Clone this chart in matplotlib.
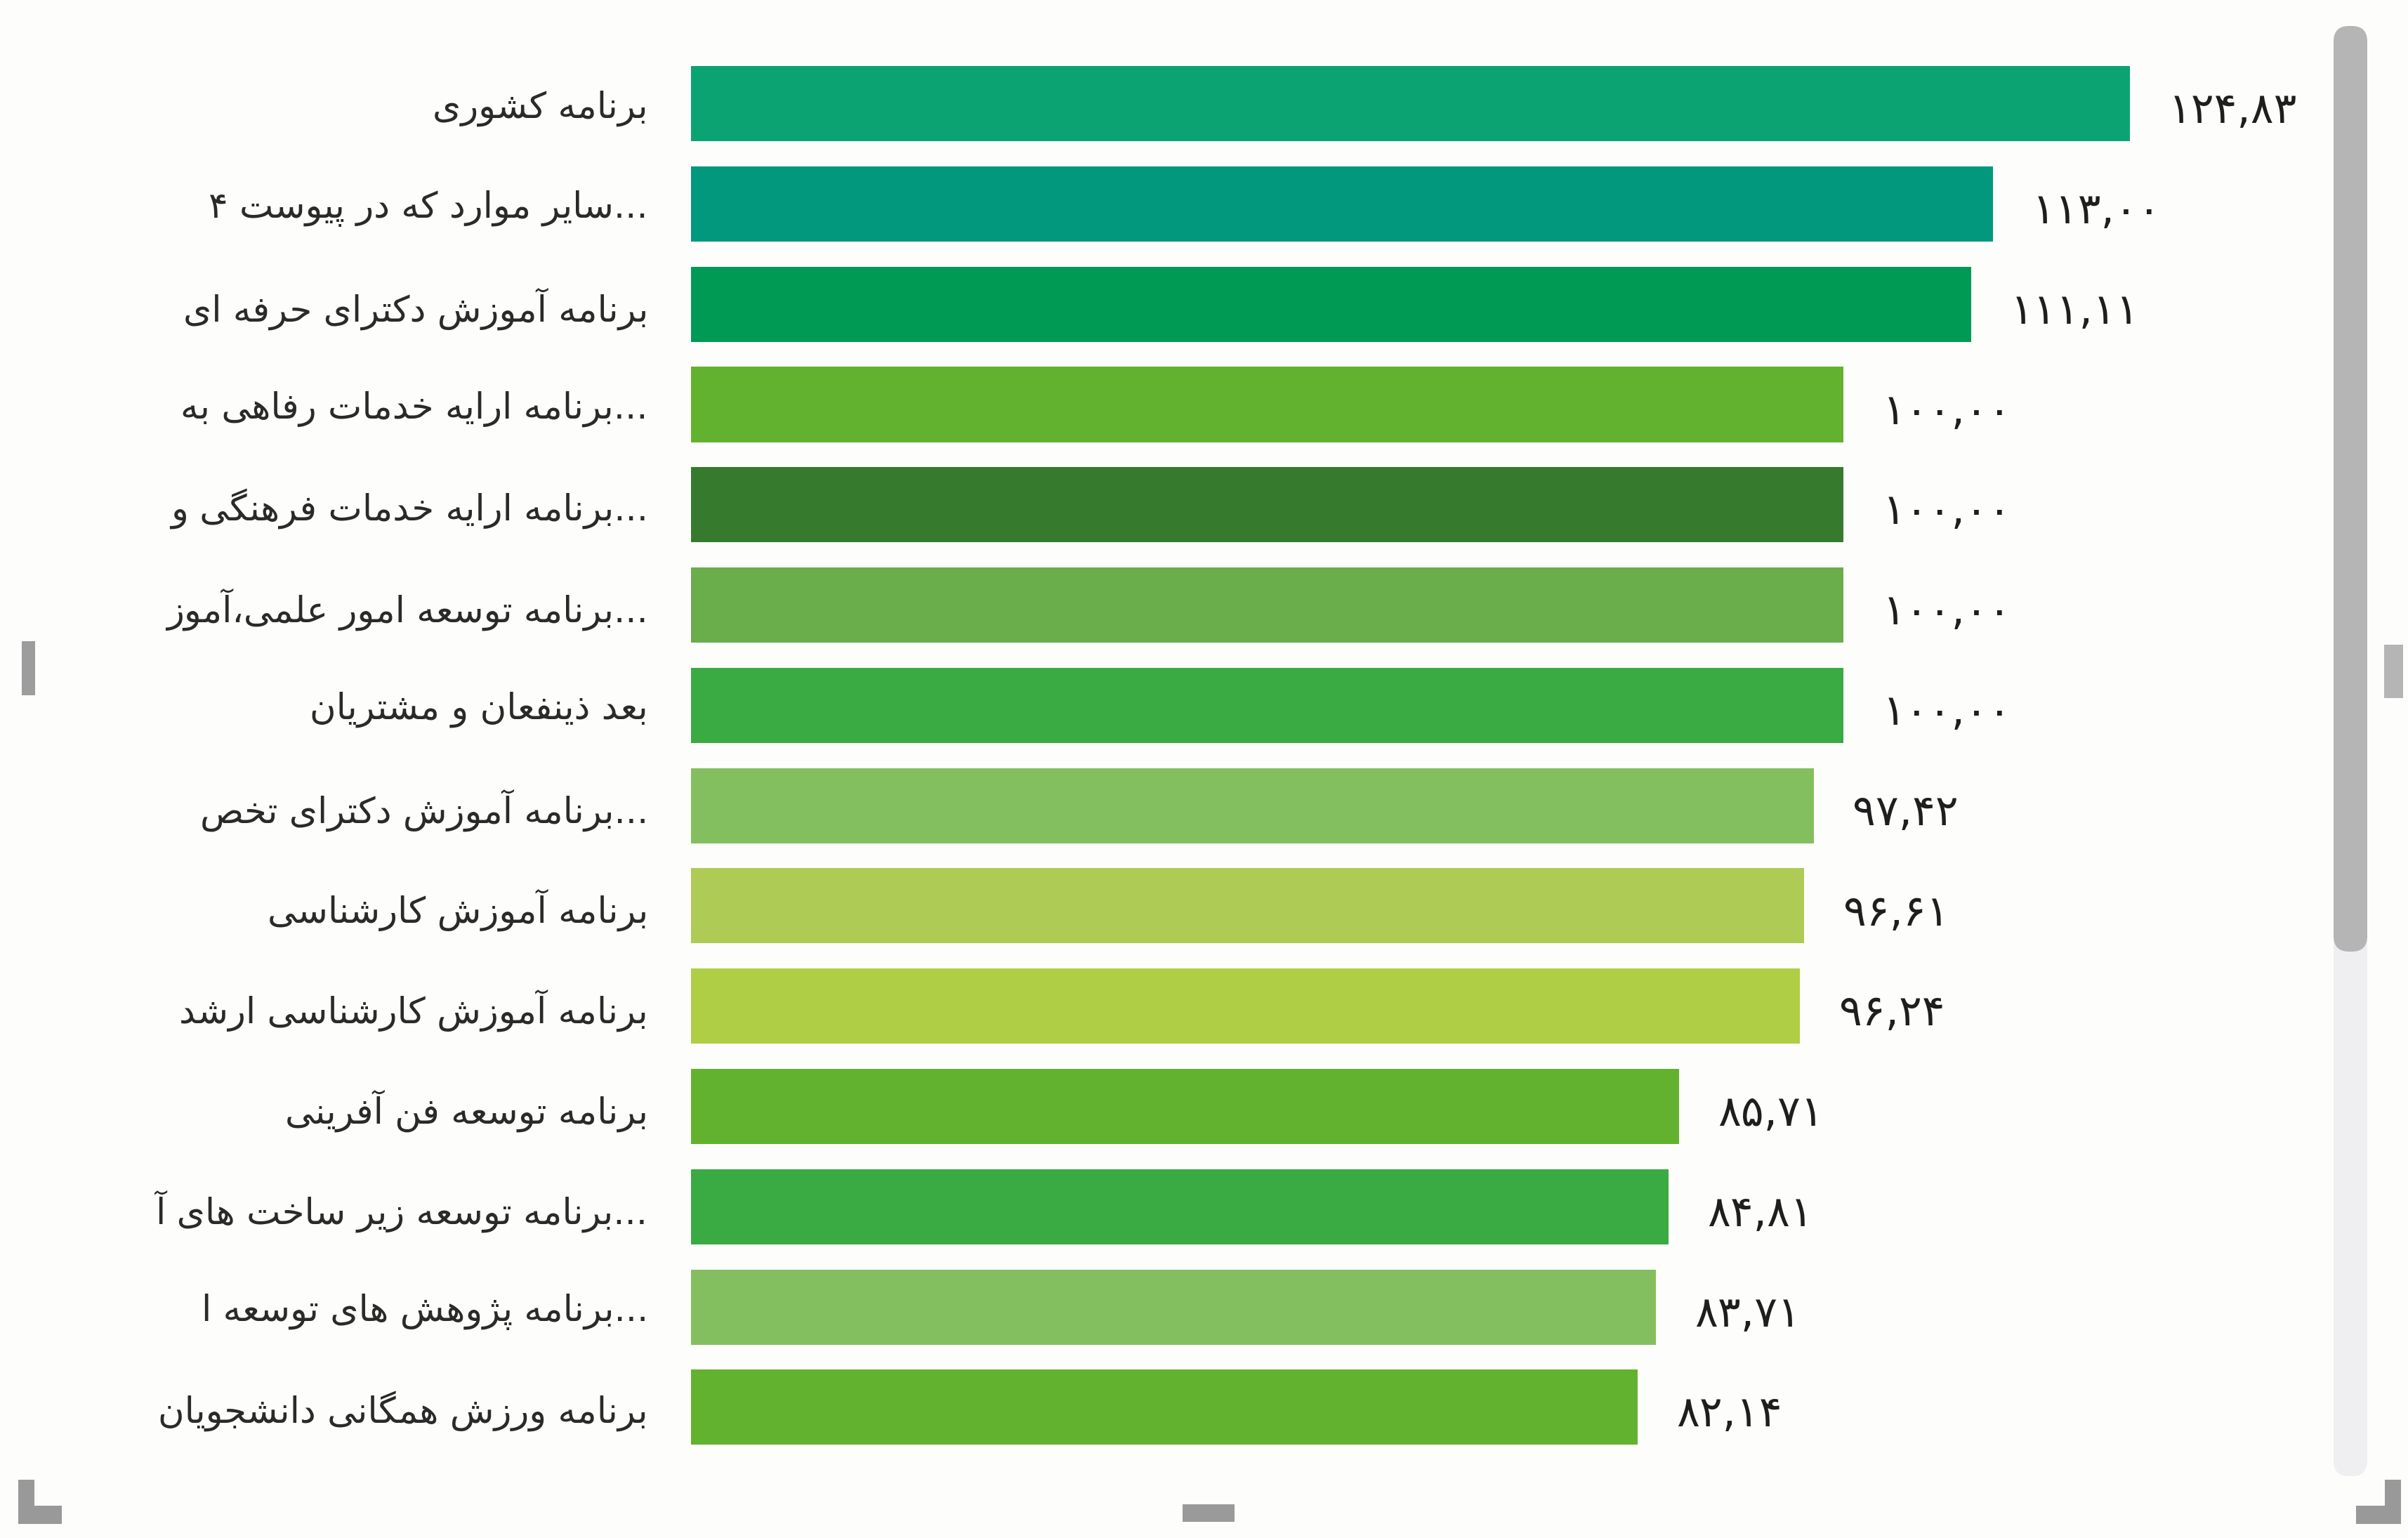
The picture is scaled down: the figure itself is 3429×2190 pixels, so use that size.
import matplotlib
matplotlib.use("Agg")
import matplotlib.pyplot as plt
from matplotlib.patches import Rectangle, FancyBboxPatch, Polygon

# ---------------- data ----------------
categories = [
    "برنامه کشوری",
    "سایر موارد که در پیوست ۴...",
    "برنامه آموزش دکترای حرفه ای",
    "برنامه ارایه خدمات رفاهی به...",
    "برنامه ارایه خدمات فرهنگی و...",
    "برنامه توسعه امور علمی،آموز...",
    "بعد ذینفعان و مشتریان",
    "برنامه آموزش دکترای تخص...",
    "برنامه آموزش کارشناسی",
    "برنامه آموزش کارشناسی ارشد",
    "برنامه توسعه فن آفرینی",
    "برنامه توسعه زیر ساخت های آ...",
    "برنامه پژوهش های توسعه ا...",
    "برنامه ورزش همگانی دانشجویان",
]
values = [124.83, 113.00, 111.11, 100.00, 100.00, 100.00, 100.00,
          97.42, 96.61, 96.24, 85.71, 84.81, 83.71, 82.14]
bar_colors = ["#0ba372", "#01987e", "#009a55", "#62b22f", "#367b2d",
              "#6aad4b", "#3aaa42", "#84bf5f", "#aecb55", "#b0cd46",
              "#62b22f", "#3aaa42", "#84bf5f", "#62b22f"]

# ---------------- minimal Arabic/Persian shaping ----------------
FORMS = {
    'ا': ('\uFE8D', '\uFE8E'), 'آ': ('\uFE81', '\uFE82'),
    'ب': ('\uFE8F', '\uFE90', '\uFE91', '\uFE92'),
    'پ': ('\uFB56', '\uFB57', '\uFB58', '\uFB59'),
    'ت': ('\uFE95', '\uFE96', '\uFE97', '\uFE98'),
    'ث': ('\uFE99', '\uFE9A', '\uFE9B', '\uFE9C'),
    'ج': ('\uFE9D', '\uFE9E', '\uFE9F', '\uFEA0'),
    'چ': ('\uFB7A', '\uFB7B', '\uFB7C', '\uFB7D'),
    'ح': ('\uFEA1', '\uFEA2', '\uFEA3', '\uFEA4'),
    'خ': ('\uFEA5', '\uFEA6', '\uFEA7', '\uFEA8'),
    'د': ('\uFEA9', '\uFEAA'), 'ذ': ('\uFEAB', '\uFEAC'),
    'ر': ('\uFEAD', '\uFEAE'), 'ز': ('\uFEAF', '\uFEB0'),
    'ژ': ('\uFB8A', '\uFB8B'),
    'س': ('\uFEB1', '\uFEB2', '\uFEB3', '\uFEB4'),
    'ش': ('\uFEB5', '\uFEB6', '\uFEB7', '\uFEB8'),
    'ص': ('\uFEB9', '\uFEBA', '\uFEBB', '\uFEBC'),
    'ض': ('\uFEBD', '\uFEBE', '\uFEBF', '\uFEC0'),
    'ط': ('\uFEC1', '\uFEC2', '\uFEC3', '\uFEC4'),
    'ظ': ('\uFEC5', '\uFEC6', '\uFEC7', '\uFEC8'),
    'ع': ('\uFEC9', '\uFECA', '\uFECB', '\uFECC'),
    'غ': ('\uFECD', '\uFECE', '\uFECF', '\uFED0'),
    'ف': ('\uFED1', '\uFED2', '\uFED3', '\uFED4'),
    'ق': ('\uFED5', '\uFED6', '\uFED7', '\uFED8'),
    'ک': ('\uFB8E', '\uFB8F', '\uFB90', '\uFB91'),
    'گ': ('\uFB92', '\uFB93', '\uFB94', '\uFB95'),
    'ل': ('\uFEDD', '\uFEDE', '\uFEDF', '\uFEE0'),
    'م': ('\uFEE1', '\uFEE2', '\uFEE3', '\uFEE4'),
    'ن': ('\uFEE5', '\uFEE6', '\uFEE7', '\uFEE8'),
    'ه': ('\uFEE9', '\uFEEA', '\uFEEB', '\uFEEC'),
    'و': ('\uFEED', '\uFEEE'),
    'ی': ('\uFBFC', '\uFBFD', '\uFBFE', '\uFBFF'),
}


def shape(text):
    out = []
    n = len(text)
    for i, c in enumerate(text):
        if c not in FORMS:
            out.append(c)
            continue
        f = FORMS[c]
        prev = text[i - 1] if i > 0 else ''
        nxt = text[i + 1] if i + 1 < n else ''
        cp = prev in FORMS and len(FORMS[prev]) == 4
        cn = nxt in FORMS and len(f) == 4
        if cp and cn:
            out.append(f[3])
        elif cp:
            out.append(f[1])
        elif cn:
            out.append(f[2])
        else:
            out.append(f[0])
    return ''.join(out)


def visual(label):
    suffix = ''
    core = label
    if label.endswith('...'):
        core, suffix = label[:-3], '...'
    return shape(core)[::-1] + suffix


PERSIAN_DIGITS = str.maketrans('0123456789.', '۰۱۲۳۴۵۶۷۸۹,')


def fa_number(v):
    return f"{v:.2f}".translate(PERSIAN_DIGITS)


# ---------------- figure ----------------
plt.rcParams['font.family'] = ['DejaVu Sans']
BG = '#fdfdfb'
fig = plt.figure(figsize=(17.15, 10.95), dpi=200, facecolor=BG)
ax = fig.add_axes([0.2869, 0.0524, 0.6698, 0.9128])
ax.set_facecolor(BG)

pos = list(range(len(values)))
ax.barh(pos, values, height=0.75, color=bar_colors, edgecolor='none')
ax.set_xlim(0, 140)
ax.set_ylim(len(values) - 0.5, -0.5)

ax.set_yticks(pos, labels=[visual(c) for c in categories])
ax.tick_params(axis='y', length=0, pad=22, labelsize=18.5, labelcolor='#2a2a2a')
ax.set_xticks([])
for s in ax.spines.values():
    s.set_visible(False)

for p, v in zip(pos, values):
    ax.annotate(fa_number(v), xy=(v, p), xytext=(20, -4), textcoords='offset points',
                ha='left', va='center', fontsize=22, color='#1e1e1e')

# ---------------- decorative frame (scrollbar & corner marks) ----------------
ov = fig.add_axes([0, 0, 1, 1], facecolor='none')
ov.set_xlim(0, 3430)
ov.set_ylim(2190, 0)
ov.axis('off')

ov.add_patch(FancyBboxPatch((3323, 40), 48, 2062, boxstyle="round,pad=0,rounding_size=22",
                            facecolor='#efeff1', edgecolor='none'))
ov.add_patch(FancyBboxPatch((3323, 37), 48, 1318, boxstyle="round,pad=0,rounding_size=22",
                            facecolor='#b5b5b5', edgecolor='none'))
ov.add_patch(Rectangle((31, 913), 19, 77, facecolor='#9d9d9d', edgecolor='none'))
ov.add_patch(Rectangle((3395, 918), 27, 76, facecolor='#b5b5b5', edgecolor='none'))
ov.add_patch(Rectangle((1684, 2142), 74, 25, facecolor='#9a9a9a', edgecolor='none'))
ov.add_patch(Polygon([(26, 2107), (49, 2107), (49, 2144), (88, 2144), (88, 2170), (26, 2170)],
                     closed=True, facecolor='#999999', edgecolor='none'))
ov.add_patch(Polygon([(3419, 2107), (3396, 2107), (3396, 2144), (3355, 2144), (3355, 2170), (3419, 2170)],
                     closed=True, facecolor='#999999', edgecolor='none'))

fig.savefig('out.png', dpi=200, facecolor=BG)
